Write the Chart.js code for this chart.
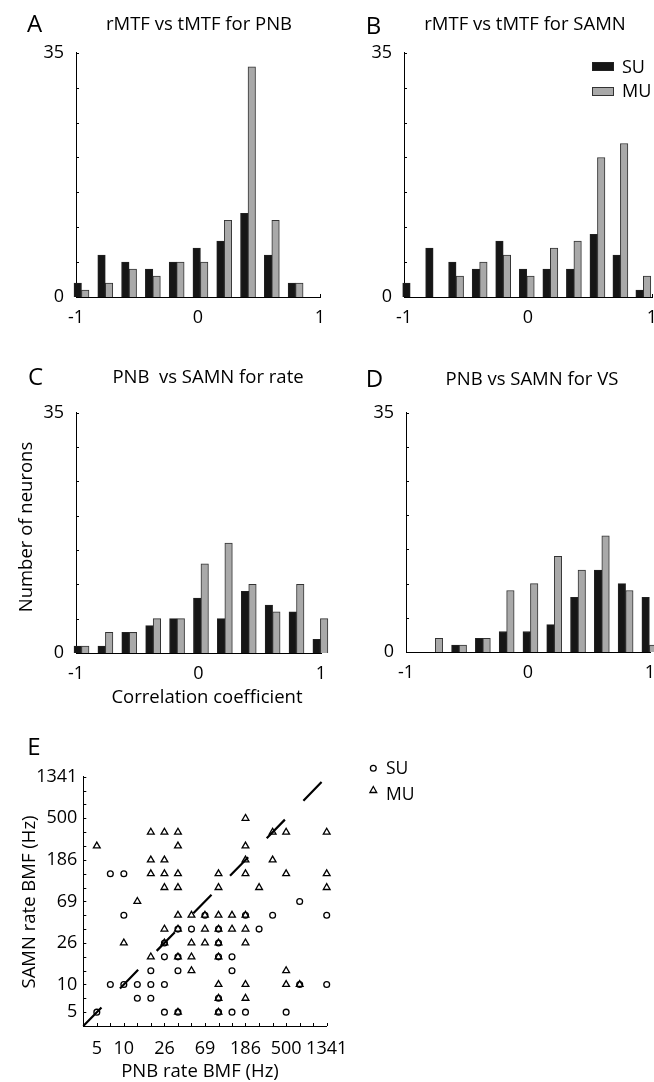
<!DOCTYPE html>
<html><head><meta charset="utf-8">
<script src="https://cdn.jsdelivr.net/npm/chart.js@4.4.1/dist/chart.umd.min.js"></script>
<style>
html,body{margin:0;padding:0;background:#fff;overflow:hidden;}
#page{position:relative;width:654px;height:1082px;overflow:hidden;background:#fff;font-family:"Open Sans",sans-serif;color:#000;}
#page canvas{position:absolute;}
.t{position:absolute;white-space:pre;line-height:1;font-family:"Open Sans",sans-serif;color:#000;}
</style></head><body><div id="page"></div>
<script>
// ---------------- DATA ----------------
// histogram bin centres (correlation coefficient)
const binsACD = [-0.955,-0.76,-0.565,-0.37,-0.175,0.02,0.215,0.41,0.605,0.80,0.995];
const binsB   = [-0.95,-0.765,-0.58,-0.39,-0.20,-0.01,0.18,0.37,0.56,0.745,0.93];
// A: rMTF vs tMTF for PNB
const suA = [2,6,5,4,5,7,8,12,6,2,0];
const muA = [1,2,4,3,5,5,11,33,11,2,0];
// B: rMTF vs tMTF for SAMN
const suB = [2,7,5,4,8,4,4,4,9,6,1];
const muB = [0,0,3,5,6,3,7,8,20,22,3];
// C: PNB vs SAMN for rate
const suC = [1,1,3,4,5,8,5,9,7,6,2];
const muC = [1,3,3,5,5,13,16,10,6,10,5];
// D: PNB vs SAMN for VS
const suD = [0,0,1,2,3,3,4,8,12,10,8];
const muD = [0,2,1,2,9,10,14,12,17,9,1];
const histYTicks = [0,35];
const histYMinor = [0,5,10,15,20,25,30,35];
const histXTicks = [-1,0,1];
const histXLabels = ['-1','0','1'];

// E: rate BMF scatter (Hz)
const bmfGrid = [3.6,5,6.95,9.65,13.4,18.6,25.9,36,50,69.4,96.5,134,186,259,360,500,695,965,1341];
const eTickVals = [5,9.65,25.9,69.4,186,500,1341];
const eTickLabels = ['5','10','26','69','186','500','1341'];
const suPNB = [6.95,9.65,695,9.65,69.4,186,360,1341,36,50,96.5,259,25.9,96.5,25.9,36,96.5,134,18.6,36,134,6.95,9.65,13.4,18.6,25.9,695,1341,13.4,18.6,96.5,5,25.9,36,96.5,134,186,500];
const suSAMN = [134,134,69.4,50,50,50,50,50,36,36,36,36,25.9,25.9,18.6,18.6,18.6,18.6,13.4,13.4,13.4,9.65,9.65,9.65,9.65,9.65,9.65,9.65,6.95,6.95,6.95,5,5,5,5,5,5,5];
const muPNB = [186,
  18.6,25.9,36,360,500,1341,
  5,36,186,
  18.6,25.9,186,360,
  18.6,25.9,36,96.5,186,500,1341,
  25.9,36,96.5,259,1341,
  13.4,
  36,50,69.4,96.5,134,186,
  25.9,36,69.4,96.5,134,186,
  9.65,25.9,50,69.4,96.5,186,
  18.6,36,50,96.5,
  50,500,
  96.5,186,500,695,
  96.5,186,
  36,96.5];
const muSAMN = [500,
  360,360,360,360,360,360,
  259,259,259,
  186,186,186,186,
  134,134,134,134,134,134,134,
  96.5,96.5,96.5,96.5,96.5,
  69.4,
  50,50,50,50,50,50,
  36,36,36,36,36,36,
  25.9,25.9,25.9,25.9,25.9,25.9,
  18.6,18.6,18.6,18.6,
  13.4,13.4,
  9.65,9.65,9.65,9.65,
  6.95,6.95,
  5,5];
const diagX = [3.6,1341];
const diagY = [3.6,1341];

// ---------------- RENDER ----------------
const page = document.getElementById('page');
const FONT = '"Open Sans", sans-serif';
const INK = '#000';

function txt(str, cx, cy, size, opt) {
  opt = opt || {};
  const d = document.createElement('div');
  d.className = 't';
  d.textContent = str;
  d.style.fontSize = size + 'px';
  if (opt.rotate) {
    d.style.left = cx + 'px';
    d.style.top = cy + 'px';
    d.style.transform = 'translate(-50%,-50%) rotate(-90deg)';
  } else {
    d.style.left = cx + 'px';
    d.style.top = (cy - 0.531 * size) + 'px';
    if (opt.anchor !== 'start') d.style.transform = 'translateX(-50%)';
  }
  page.appendChild(d);
  return d;
}

function mk(box) {
  const c = document.createElement('canvas');
  c.width = box.w; c.height = box.h;
  c.style.left = box.left + 'px'; c.style.top = box.top + 'px';
  c.style.width = box.w + 'px'; c.style.height = box.h + 'px';
  page.appendChild(c);
  return c;
}

const innerTicks = {
  id: 'innerTicks',
  beforeDatasetsDraw(chart, args, o) {
    if (!o || !o.len) return;
    const ctx = chart.ctx, a = chart.chartArea;
    const xs = chart.scales.x, ys = chart.scales.y;
    ctx.save();
    ctx.strokeStyle = '#000';
    ctx.lineWidth = 1;
    ctx.beginPath();
    (o.ys || []).forEach(v => {
      const p = Math.round(ys.getPixelForValue(v)) + 0.5;
      ctx.moveTo(a.left, p); ctx.lineTo(a.left + o.len, p);
    });
    (o.xs || []).forEach(v => {
      const p = Math.round(xs.getPixelForValue(v)) + 0.5;
      ctx.moveTo(p, a.bottom); ctx.lineTo(p, a.bottom - o.len);
    });
    ctx.stroke();
    ctx.restore();
  }
};

function hist(box, area, centers, su, mu) {
  const cv = mk(box);
  return new Chart(cv, {
    type: 'bar',
    data: {
      datasets: [
        { label: 'SU', data: centers.map((c, i) => ({ x: c, y: su[i] })),
          backgroundColor: '#161616', borderColor: '#222', borderWidth: 1,
          barThickness: 7.5, clip: false },
        { label: 'MU', data: centers.map((c, i) => ({ x: c, y: mu[i] })),
          backgroundColor: '#a9a9a9', borderColor: '#333', borderWidth: 1,
          barThickness: 7.5, clip: false }
      ]
    },
    options: {
      responsive: false, animation: false, devicePixelRatio: 1,
      layout: { autoPadding: false, padding: { left: 0, top: area.y0 - box.top, right: box.left + box.w - area.x1, bottom: 0 } },
      plugins: { legend: { display: false }, tooltip: { enabled: false },
        innerTicks: { len: 3, ys: histYMinor, xs: histXTicks } },
      scales: {
        x: {
          type: 'linear', min: -1, max: 1, offset: false,
          grid: { display: false, drawTicks: false },
          border: { display: true, color: '#000', width: 1 },
          afterBuildTicks: s => { s.ticks = histXTicks.map(v => ({ value: v })); },
          ticks: { autoSkip: false, maxRotation: 0, minRotation: 0, padding: 10, color: INK,
            font: { family: FONT, size: 18 }, callback: (v, i) => histXLabels[i] },
          afterFit: s => { s.height = box.top + box.h - area.y1; }
        },
        y: {
          min: 0, max: 35,
          grid: { display: false, drawTicks: false },
          border: { display: true, color: '#000', width: 1 },
          afterBuildTicks: s => { s.ticks = histYTicks.map(v => ({ value: v })); },
          ticks: { autoSkip: false, padding: 12, color: INK,
            font: { family: FONT, size: 18 }, callback: v => String(v) },
          afterFit: s => { s.width = area.x0 - box.left; }
        }
      }
    },
    plugins: [innerTicks]
  });
}

hist({ left: 0, top: 30, w: 340, h: 310 }, { x0: 76, x1: 320, y0: 46, y1: 297 }, binsACD, suA, muA);
hist({ left: 330, top: 30, w: 340, h: 310 }, { x0: 404, x1: 652, y0: 50, y1: 297 }, binsB, suB, muB);
hist({ left: 0, top: 390, w: 340, h: 300 }, { x0: 76, x1: 321, y0: 404, y1: 653 }, binsACD, suC, muC);
hist({ left: 330, top: 390, w: 340, h: 300 }, { x0: 406, x1: 650, y0: 406, y1: 652 }, binsACD, suD, muD);

// scatter E
(function () {
  const box = { left: 0, top: 760, w: 360, h: 322 };
  const area = { x0: 83.3, x1: 326.7, y0: 776.7, y1: 1026 };
  const cv = mk(box);
  const logAxis = (isX) => ({
    type: 'logarithmic', min: 3.6, max: 1341,
    grid: { display: false, drawTicks: false },
    border: { display: true, color: '#000', width: 1 },
    afterBuildTicks: s => { s.ticks = eTickVals.map(v => ({ value: v })); },
    ticks: { autoSkip: false, maxRotation: 0, minRotation: 0, padding: isX ? 12 : 6, color: INK,
      font: { family: FONT, size: 18 }, callback: (v, i) => eTickLabels[i] },
    afterFit: isX ? (s => { s.height = box.top + box.h - area.y1; }) : (s => { s.width = area.x0 - box.left; })
  });
  new Chart(cv, {
    type: 'scatter',
    data: {
      datasets: [
        { label: 'diag', type: 'line', data: diagX.map((x, i) => ({ x, y: diagY[i] })),
          borderColor: '#000', borderWidth: 2.2, borderDash: [26, 26.5], pointRadius: 0, fill: false, clip: false },
        { label: 'SU', data: suPNB.map((x, i) => ({ x, y: suSAMN[i] })),
          pointStyle: 'circle', pointRadius: 2.9, borderColor: '#000', borderWidth: 1.3,
          backgroundColor: 'rgba(0,0,0,0)', clip: false },
        { label: 'MU', data: muPNB.map((x, i) => ({ x, y: muSAMN[i] })),
          pointStyle: 'triangle', pointRadius: 3.9, borderColor: '#000', borderWidth: 1.3,
          backgroundColor: 'rgba(0,0,0,0)', clip: false }
      ]
    },
    options: {
      responsive: false, animation: false, devicePixelRatio: 1,
      layout: { autoPadding: false, padding: { left: 0, top: area.y0 - box.top, right: box.left + box.w - area.x1, bottom: 0 } },
      plugins: { legend: { display: false }, tooltip: { enabled: false },
        innerTicks: { len: 3, ys: bmfGrid, xs: bmfGrid } },
      scales: { x: logAxis(true), y: logAxis(false) }
    },
    plugins: [innerTicks]
  });
})();

// ---------------- TEXT ----------------
txt('A', 34.5, 23.5, 24);
txt('rMTF vs tMTF for PNB', 199, 23.5, 18.5);
txt('B', 373.5, 25.5, 24);
txt('rMTF vs tMTF for SAMN', 525, 23.5, 18.5);
txt('C', 35.5, 377, 24);
txt('PNB  vs SAMN for rate', 208, 377, 18.5);
txt('D', 374.5, 378.5, 24);
txt('PNB vs SAMN for VS', 532, 379, 18.5);
txt('E', 34, 747, 24);
txt('Number of neurons', 24.5, 527, 18.5, { rotate: true });
txt('Correlation coefficient', 207, 696.5, 18.5);
txt('SAMN rate BMF (Hz)', 28, 902, 18.5, { rotate: true });
txt('PNB rate BMF (Hz)', 200, 1071, 18.5);

// legend B
function rect(x, y, w, h, fill, stroke) {
  const d = document.createElement('div');
  d.style.cssText = `position:absolute;left:${x}px;top:${y}px;width:${w}px;height:${h}px;background:${fill};border:1px solid ${stroke};box-sizing:border-box;`;
  page.appendChild(d);
}
rect(592, 62, 22, 9, '#161616', '#222');
rect(592, 87, 22, 9, '#a9a9a9', '#333');
txt('SU', 622, 66.5, 18, { anchor: 'start' });
txt('MU', 622, 91, 18, { anchor: 'start' });

// legend E
const svgNS = 'http://www.w3.org/2000/svg';
const sv = document.createElementNS(svgNS, 'svg');
sv.setAttribute('width', '30'); sv.setAttribute('height', '45');
sv.style.cssText = 'position:absolute;left:358px;top:755px;';
sv.innerHTML = '<circle cx="15.3" cy="13.3" r="2.9" fill="none" stroke="#000" stroke-width="1.3"/>' +
  '<polygon points="15.3,35 18.7,41 11.9,41" fill="none" stroke="#000" stroke-width="1.3" transform="translate(0,-3.5)"/>';
page.appendChild(sv);
txt('SU', 386, 768, 17.5, { anchor: 'start' });
txt('MU', 386, 794, 17.5, { anchor: 'start' });
</script></body></html>
